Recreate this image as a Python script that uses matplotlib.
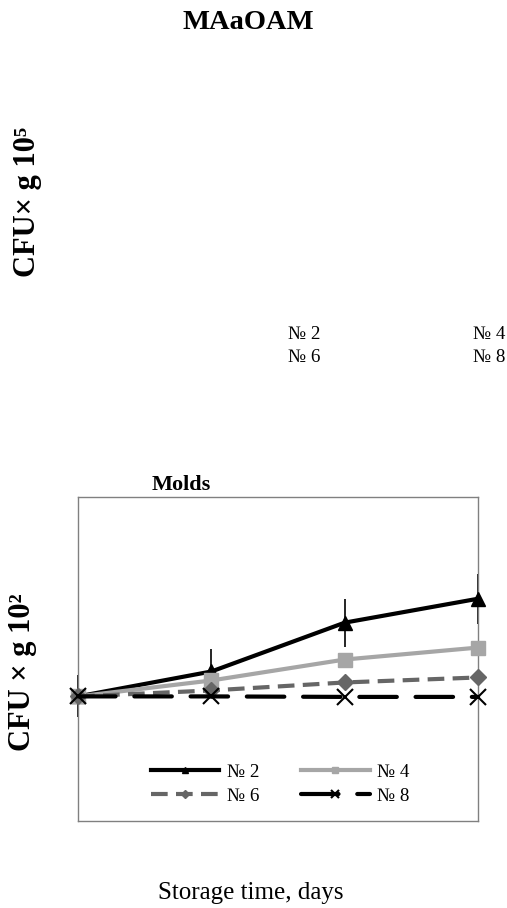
import matplotlib.pyplot as plt

plt.rcParams['font.family'] = ['Liberation Serif', 'DejaVu Serif']

days = [0, 1, 2, 3]
series_names = ["№ 2", "№ 4", "№ 6", "№ 8"]
molds_2 = [0.0, 0.50, 1.48, 1.96]
molds_2_err = [0.42, 0.45, 0.48, 0.50]
molds_4 = [0.0, 0.32, 0.74, 0.98]
molds_6 = [0.0, 0.12, 0.28, 0.38]
molds_8 = [0.0, 0.0, -0.01, -0.01]


def main() -> None:
    fig = plt.figure(figsize=(5.07, 9.08), dpi=100)

    # top panel: only the texts survived
    fig.text(0.49, 0.975, "MAaOAM", ha="center", va="center", fontsize=20.5, fontweight="bold")
    fig.text(0.054, 0.778, "CFU× g 10⁵", ha="center", va="center", rotation=90,
             fontsize=22, fontweight="bold")
    for i, name in enumerate(series_names):
        col, row = i % 2, i // 2
        fig.text(0.568 + col * 0.364, 0.632 - row * 0.026, name, ha="left", va="center",
                 fontsize=13.7)

    ax = fig.add_axes([0.154, 0.0958, 0.789, 0.3568])
    ax.errorbar(days, molds_2, yerr=molds_2_err, fmt="none", ecolor="black", elinewidth=1.2,
                capsize=0, clip_on=False, zorder=2)
    h2, = ax.plot(days, molds_2, color="black", lw=3, marker="^", ms=10, clip_on=False,
                  label=series_names[0], zorder=3)
    h4, = ax.plot(days, molds_4, color="#a6a6a6", lw=3, marker="s", ms=10, clip_on=False,
                  label=series_names[1], zorder=3)
    h6, = ax.plot(days, molds_6, color="#666666", lw=3, ls=(0, (4, 2)), marker="D", ms=8,
                  clip_on=False, label=series_names[2], zorder=3)
    h8, = ax.plot(days, molds_8, color="black", lw=3, ls=(0, (9, 4.5)), marker="x", ms=12,
                  mew=1.5, clip_on=False, label=series_names[3], zorder=4,
                  dash_capstyle="round")

    ax.set_xlim(0, 3)
    ax.set_ylim(-2.5, 4.0)
    ax.set_xticks([])
    ax.set_yticks([])
    for s in ax.spines.values():
        s.set_color("#808080")
        s.set_linewidth(1)

    ax.set_title("Molds", loc="left", x=0.185, fontsize=16, fontweight="bold", pad=5)
    fig.text(0.045, 0.26, "CFU × g 10²", ha="center", va="center", rotation=90,
             fontsize=22, fontweight="bold")
    ax.legend([h2, h6, h4, h8], [series_names[0], series_names[2], series_names[1],
              series_names[3]], loc="center", bbox_to_anchor=(0.505, 0.114), ncol=2,
              frameon=False, fontsize=13.7, handlelength=3.6, columnspacing=2.2,
              labelspacing=0.35, handletextpad=0.4, markerscale=0.5)

    fig.text(0.495, 0.017, "Storage time, days", ha="center", va="center", fontsize=18)

    fig.savefig("out.png", dpi=100)


if __name__ == "__main__":
    main()
